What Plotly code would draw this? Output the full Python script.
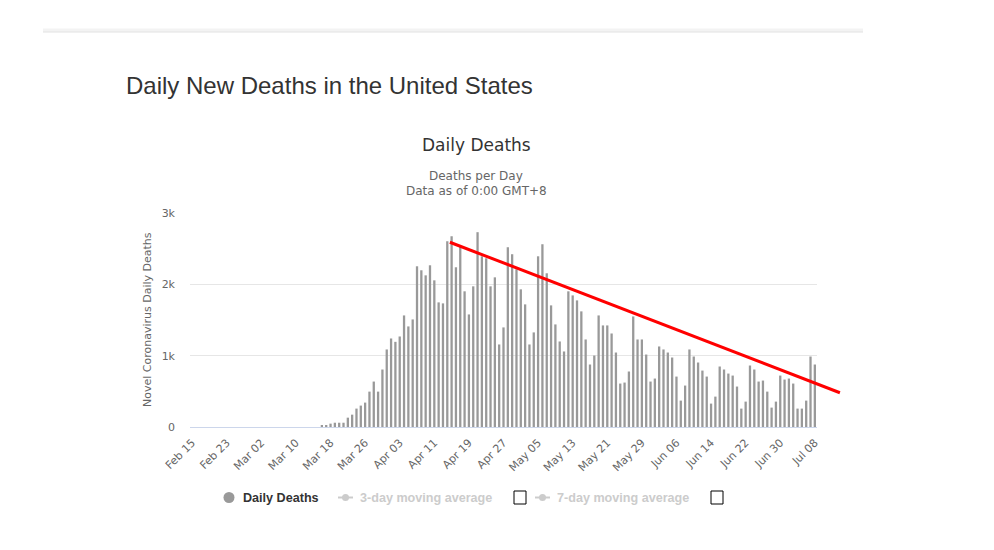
import plotly.graph_objects as go
import pandas as pd

# ---------------- data ----------------
DATES = pd.date_range("2020-02-15", "2020-07-08", freq="D").strftime("%b %d").tolist()

DAILY_DEATHS = [
    # Feb 15 - Feb 29
    0, 0, 0, 0, 0, 0, 0, 0, 0, 0, 0, 0, 0, 0, 0,
    # Mar 01 - Mar 15 (too small to be visible)
    0, 0, 0, 0, 0, 0, 0, 0, 0, 0, 0, 0, 0, 0, 0,
    # Mar 16 - Apr 04
    18, 22, 47, 60, 60, 60, 131, 173, 258, 300, 342, 496, 637, 496, 806,
    1087, 1241, 1194, 1269, 1564,
    # Apr 05 - Apr 24
    1410, 1508, 2253, 2197, 2126, 2267, 2056, 1747, 1733, 2604, 2674, 2239,
    2534, 1902, 1578, 1972, 2731, 2393, 2365, 1972,
    # Apr 25 - May 13
    2098, 1157, 1396, 2520, 2422, 2211, 1930, 1719, 1157, 1326, 2393, 2562,
    2155, 1705, 1438, 1199, 1059, 1902, 1845,
    # May 14 - Jun 02
    1775, 1621, 1227, 876, 1002, 1564, 1424, 1424, 1311, 1044, 609, 623,
    778, 1550, 1227, 1227, 1016, 637, 679, 1129,
    # Jun 03 - Jun 21
    1087, 1044, 974, 707, 370, 581, 1087, 988, 904, 791, 707, 328, 426, 848,
    806, 749, 721, 567, 258,
    # Jun 22 - Jul 08
    356, 862, 806, 637, 651, 496, 272, 356, 721, 665, 679, 609, 258, 258,
    370, 988, 876,
]

TICK_LABELS = DATES[::8]
Y_TICKS = [0, 1000, 2000, 3000]
Y_TICK_TEXT = ["0", "1k", "2k", "3k"]

# hand-drawn red trend line (category index, deaths)
TREND_X = [59.6, 149.8]
TREND_Y = [2590, 480]

PAGE_TITLE = "Daily New Deaths in the United States"
CHART_TITLE = "Daily Deaths"
SUBTITLE_1 = "Deaths per Day"
SUBTITLE_2 = "Data as of 0:00 GMT+8"
Y_TITLE = "Novel Coronavirus Daily Deaths"
LEGEND_ITEMS = ["Daily Deaths", "3-day moving average", "7-day moving average"]

# ---------------- layout geometry ----------------
W, H = 994, 550
PL, PR, PT, PB = 190, 817, 213, 427
N = len(DATES)
YMAX = 3000


def px_x(x):
    return (x - PL) / (PR - PL)


def px_y(y):
    return (PB - y) / (PB - PT)


def cat_to_paper(i):
    return (i + 0.5) / N


fig = go.Figure()
fig.add_trace(go.Bar(
    x=DATES, y=DAILY_DEATHS,
    marker=dict(color="#999999", line=dict(width=0)),
    showlegend=False,
    hovertemplate="%{x}: %{y}<extra></extra>",
))

AX_FONT = dict(family="DejaVu Sans", size=11, color="#666666")

fig.update_layout(
    width=W, height=H, autosize=False,
    margin=dict(l=PL, r=W - PR, t=PT, b=H - PB, pad=0),
    paper_bgcolor="white", plot_bgcolor="white",
    bargap=0.47,
    showlegend=False,
    xaxis=dict(
        type="category",
        categoryorder="array", categoryarray=DATES,
        range=[-0.5, N - 0.5],
        tickmode="array", tickvals=TICK_LABELS, ticktext=TICK_LABELS,
        tickangle=-45, tickfont=AX_FONT,
        showgrid=False, zeroline=False,
        showline=True, linecolor="#ccd6eb", linewidth=1,
        ticks="", ticklabelstandoff=4,
    ),
    yaxis=dict(
        range=[0, YMAX],
        tickmode="array", tickvals=Y_TICKS, ticktext=Y_TICK_TEXT,
        tickfont=AX_FONT,
        showgrid=True, gridcolor="#e6e6e6", gridwidth=1,
        zeroline=False, showline=False, ticks="",
        ticklabelstandoff=14,
    ),
)

shapes = []
# page separator band
shapes.append(dict(type="rect", xref="paper", yref="paper",
                   x0=px_x(43), x1=px_x(863), y0=px_y(32), y1=px_y(28.5),
                   fillcolor="#f3f3f3", line=dict(width=0), layer="below"))
shapes.append(dict(type="line", xref="paper", yref="paper",
                   x0=px_x(43), x1=px_x(863), y0=px_y(32), y1=px_y(32),
                   line=dict(color="#e2e2e2", width=1)))
# red trend line
shapes.append(dict(type="line", xref="paper", yref="paper",
                   x0=cat_to_paper(TREND_X[0]), y0=TREND_Y[0] / YMAX,
                   x1=cat_to_paper(TREND_X[1]), y1=TREND_Y[1] / YMAX,
                   line=dict(color="#ff0000", width=3)))
# legend symbols
LY = 497.5
shapes.append(dict(type="circle", xref="paper", yref="paper",
                   x0=px_x(223.5), x1=px_x(234.5), y0=px_y(LY + 5.5), y1=px_y(LY - 5.5),
                   fillcolor="#999999", line=dict(width=0)))
for x0 in (338, 535):
    shapes.append(dict(type="line", xref="paper", yref="paper",
                       x0=px_x(x0), x1=px_x(x0 + 15), y0=px_y(LY), y1=px_y(LY),
                       line=dict(color="#cccccc", width=2)))
    shapes.append(dict(type="circle", xref="paper", yref="paper",
                       x0=px_x(x0 + 4), x1=px_x(x0 + 11), y0=px_y(LY + 3.5), y1=px_y(LY - 3.5),
                       fillcolor="#cccccc", line=dict(width=0)))
# checkboxes
for x0 in (514, 711):
    shapes.append(dict(type="rect", xref="paper", yref="paper",
                       x0=px_x(x0), x1=px_x(x0 + 12), y0=px_y(504), y1=px_y(491),
                       fillcolor="white", line=dict(color="#000000", width=1)))

annotations = [
    dict(text=PAGE_TITLE, x=px_x(124), y=px_y(85), xanchor="left", yanchor="middle",
         font=dict(family="Liberation Sans, Arial", size=24, color="#333333")),
    dict(text=CHART_TITLE, x=px_x(476), y=px_y(145), xanchor="center", yanchor="middle",
         font=dict(family="DejaVu Sans", size=17, color="#333333")),
    dict(text=SUBTITLE_1, x=px_x(476), y=px_y(176), xanchor="center", yanchor="middle",
         font=dict(family="DejaVu Sans", size=12, color="#666666")),
    dict(text=SUBTITLE_2, x=px_x(476), y=px_y(191), xanchor="center", yanchor="middle",
         font=dict(family="DejaVu Sans", size=12, color="#666666")),
    dict(text=Y_TITLE, x=px_x(147), y=px_y(320), xanchor="center", yanchor="middle",
         textangle=-90, font=dict(family="DejaVu Sans", size=11, color="#666666")),
    dict(text="<b>" + LEGEND_ITEMS[0] + "</b>", x=px_x(241), y=px_y(LY), xanchor="left",
         yanchor="middle", font=dict(family="Liberation Sans, Arial", size=12.6, color="#333333")),
    dict(text="<b>" + LEGEND_ITEMS[1] + "</b>", x=px_x(358), y=px_y(LY), xanchor="left",
         yanchor="middle", font=dict(family="Liberation Sans, Arial", size=12.6, color="#cccccc")),
    dict(text="<b>" + LEGEND_ITEMS[2] + "</b>", x=px_x(555), y=px_y(LY), xanchor="left",
         yanchor="middle", font=dict(family="Liberation Sans, Arial", size=12.6, color="#cccccc")),
]
for a in annotations:
    a.update(xref="paper", yref="paper", showarrow=False)

fig.update_layout(shapes=shapes, annotations=annotations)
fig.write_html("out.html")
